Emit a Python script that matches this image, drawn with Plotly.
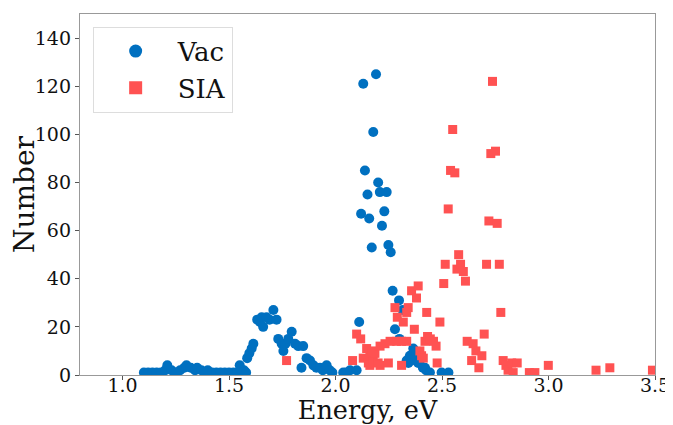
import plotly.graph_objects as go

# ---- data ----
vac_energy = [1.10, 1.12, 1.14, 1.16, 1.18, 1.20, 1.21, 1.23, 1.25, 1.27, 1.29, 1.30, 1.32, 1.34,
              1.35, 1.37, 1.39, 1.40, 1.42, 1.44, 1.46, 1.48, 1.50, 1.52, 1.54, 1.55, 1.57, 1.58,
              1.585, 1.595, 1.606, 1.614, 1.632, 1.645, 1.653, 1.660, 1.676, 1.690, 1.708, 1.723,
              1.731, 1.747, 1.755, 1.765, 1.778, 1.794, 1.810, 1.825, 1.848, 1.840, 1.864, 1.880,
              1.896, 1.910, 1.927, 1.940, 1.958, 1.973, 1.985,
              2.036, 2.050, 2.068, 2.099,
              2.111, 2.120, 2.130, 2.138, 2.150, 2.158, 2.170, 2.177, 2.190, 2.200, 2.208, 2.218,
              2.229, 2.240, 2.248, 2.259, 2.268, 2.279, 2.298, 2.315, 2.300,
              2.334, 2.342, 2.349, 2.357, 2.365, 2.373, 2.380, 2.388, 2.396, 2.410, 2.420, 2.425,
              2.443, 2.498, 2.530]
vac_number = [1, 1, 1, 1, 1, 2, 4, 2, 1, 2, 3, 4, 3, 2,
              3, 2, 1, 2, 1, 1, 1, 1, 1, 1, 1, 4, 2, 1,
              7, 9, 11, 13, 23, 22, 24, 20, 24, 23, 27, 23,
              15, 13, 10, 13, 15, 18, 13, 12, 12, 3, 7, 6,
              4, 3, 3, 2, 4, 2, 1,
              1, 1, 2, 2,
              22, 67, 121, 85, 75, 65, 53, 101, 125, 80, 76, 62,
              68, 76, 54, 51, 35, 19, 31, 27, 15,
              6, 5, 8, 6, 11, 8, 9, 5, 6, 3, 3, 2,
              1, 1, 1]

sia_energy = [1.770,
              2.080, 2.099, 2.118, 2.130, 2.146, 2.154, 2.161, 2.161, 2.170, 2.177, 2.185, 2.200,
              2.209, 2.209, 2.232, 2.248, 2.256, 2.279, 2.287, 2.290, 2.310, 2.310, 2.318, 2.334,
              2.334, 2.341, 2.357, 2.370, 2.380, 2.388, 2.396, 2.404, 2.412, 2.420, 2.428, 2.432,
              2.445, 2.460, 2.472, 2.477, 2.490, 2.508, 2.515, 2.529, 2.540, 2.550, 2.560, 2.570,
              2.578, 2.587, 2.600, 2.610, 2.618, 2.639, 2.646, 2.659, 2.673, 2.687, 2.698, 2.709,
              2.720, 2.729, 2.737, 2.751, 2.759, 2.769, 2.776, 2.787, 2.800, 2.810, 2.827, 2.834,
              2.853, 2.910, 2.936, 2.999, 3.223, 3.288, 3.488]
sia_number = [6,
              6, 17, 15, 7, 11, 5, 8, 4, 10, 6, 9, 5,
              12, 4, 13, 5, 14, 28, 14, 24, 14, 4, 22, 14,
              26, 28, 35, 19, 32, 37, 10, 8, 7, 14, 26, 16,
              15, 14, 12, 5, 22, 38, 46, 69, 85, 102, 84, 44,
              50, 46, 43, 39, 14, 6, 13, 10, 3, 8, 17, 46,
              64, 92, 122, 93, 63, 46, 26, 6, 4, 2, 5, 1,
              5, 1, 1, 4, 2, 3, 2]

x_ticks = [1.0, 1.5, 2.0, 2.5, 3.0, 3.5]
y_ticks = [0, 20, 40, 60, 80, 100, 120, 140]

BLUE = "#0070C0"
RED = "#FF5252"
FONT = "DejaVu Serif"

fig = go.Figure()
fig.add_trace(go.Scatter(x=vac_energy, y=vac_number, mode="markers", name="Vac",
                         marker=dict(symbol="circle", size=10, color=BLUE, line=dict(width=0)),
                         showlegend=False))
fig.add_trace(go.Scatter(x=sia_energy, y=sia_number, mode="markers", name="SIA",
                         marker=dict(symbol="square", size=9, color=RED, line=dict(width=0)),
                         showlegend=False))
# legend entries with larger symbols
fig.add_trace(go.Scatter(x=[None], y=[None], mode="markers", name="Vac", legendgroup="a",
                         marker=dict(symbol="circle", size=13, color=BLUE, line=dict(width=0))))
fig.add_trace(go.Scatter(x=[None], y=[None], mode="markers", name="SIA", legendgroup="b",
                         marker=dict(symbol="square", size=13, color=RED, line=dict(width=0))))

axis_common = dict(showline=True, mirror=True, linecolor="#999999", linewidth=1.3,
                   showgrid=False, zeroline=False, ticks="outside", ticklen=4,
                   tickcolor="#555555", tickwidth=1, automargin=False,
                   tickfont=dict(family=FONT, size=19, color="#111111"))

fig.update_layout(
    width=665, height=417,
    margin=dict(l=72, r=18, t=6, b=50),
    paper_bgcolor="white", plot_bgcolor="white",
    font=dict(family=FONT, color="#111111"),
    xaxis=dict(range=[0.8, 3.5], tickvals=x_ticks, ticktext=[f"{v:.1f}" for v in x_ticks],
               ticklabelstandoff=-11,
               title=dict(text="Energy, eV", font=dict(family=FONT, size=25.5), standoff=0),
               **axis_common),
    yaxis=dict(range=[0, 150], tickvals=y_ticks,
               title=dict(text="Number", font=dict(family=FONT, size=28), standoff=6),
               **axis_common),
    legend=dict(x=0.022, y=0.965, xanchor="left", yanchor="top",
                bgcolor="rgba(255,255,255,0.8)", bordercolor="#dddddd", borderwidth=1,
                font=dict(family=FONT, size=26, color="#111111"),
                itemwidth=74, traceorder="grouped", tracegroupgap=0),
)

fig.write_html("out.html")
